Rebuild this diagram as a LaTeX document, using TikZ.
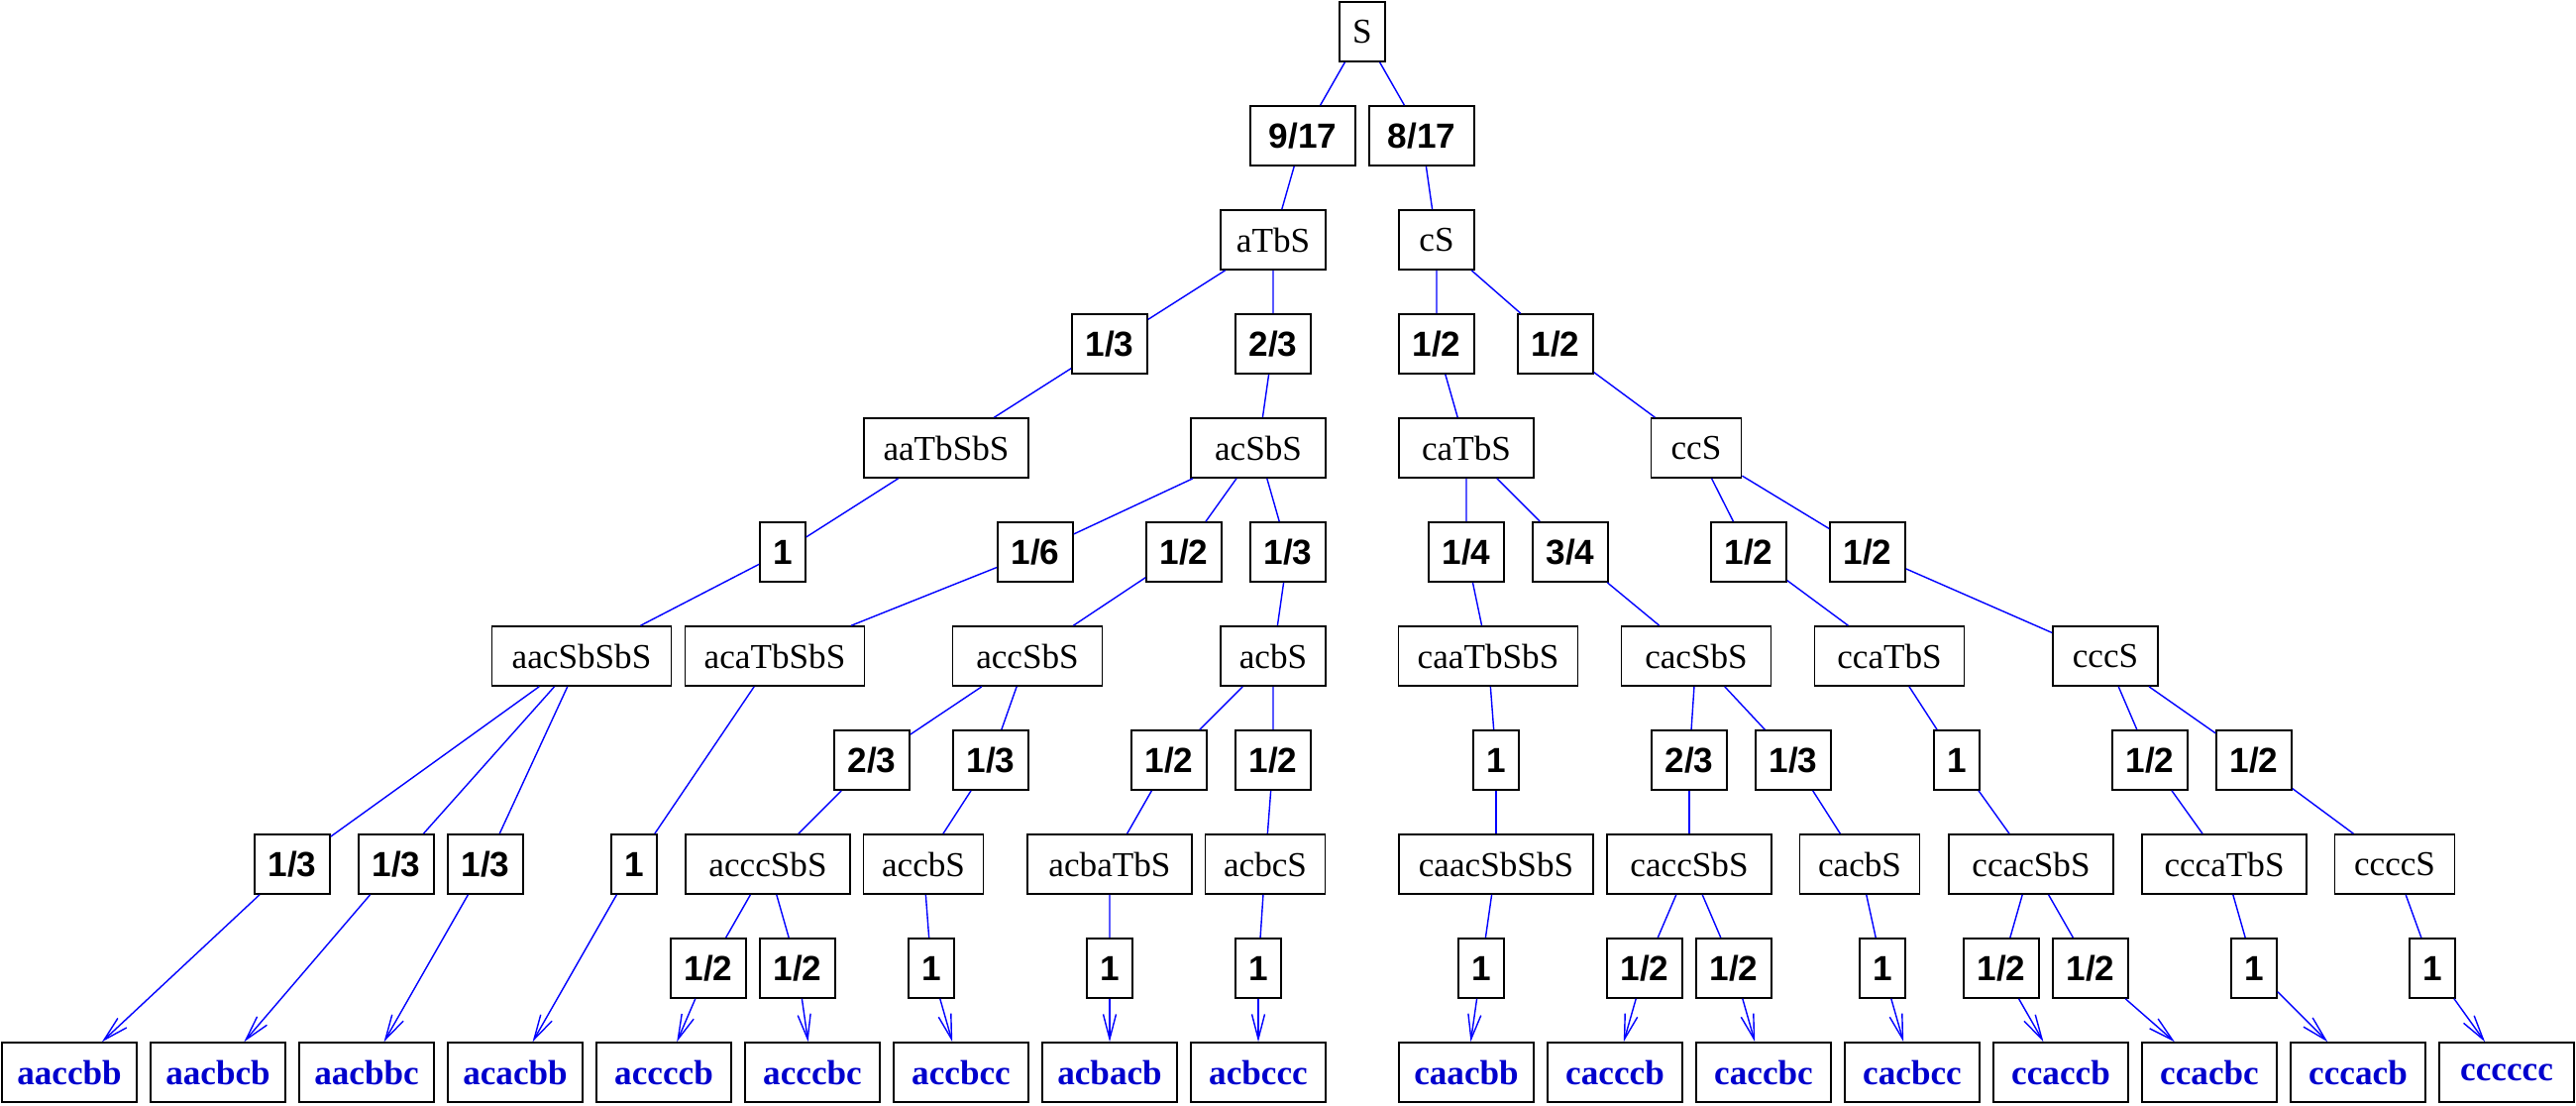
\documentclass[tikz,border=0pt]{standalone}
\usepackage{fontspec}
\setmainfont{Liberation Serif}
\setsansfont{Liberation Sans}
\usetikzlibrary{arrows.meta}
\definecolor{leafblue}{RGB}{0,0,205}
\tikzset{
  form/.style={draw, line width=0.45pt, inner sep=0pt, minimum height=6mm, minimum width=#1mm},
  prob/.style={draw, line width=0.45pt, inner sep=0pt, minimum height=6mm, minimum width=#1mm, font=\sffamily\bfseries},
  prob/.default=7.6,
  leaf/.style={draw, line width=0.45pt, inner sep=0pt, minimum height=6mm, minimum width=13.6mm, font=\bfseries, text=leafblue},
  edge/.style={blue, line width=0.4pt},
  arr/.style={edge, -{Straight Barb[length=2.5mm, width=1.3mm]}},
}
\begin{document}
\begin{tikzpicture}[x=0.01cm, y=-0.01cm]
    \useasboundingbox (0,0) rectangle (2600,1115);
    \node[form=4.6] (S) at (1375,32) {S};
    \node[prob=10.6] (p-aTbS) at (1315,137) {9/17};
    \node[prob=10.6] (p-cS) at (1435,137) {8/17};
    \node[form=10.6] (aTbS) at (1285,242) {aTbS};
    \node[form=7.6] (cS) at (1450,242) {cS};
    \node[prob] (p-aaTbSbS) at (1120,347) {1/3};
    \node[prob] (p-acSbS) at (1285,347) {2/3};
    \node[prob] (p-caTbS) at (1450,347) {1/2};
    \node[prob] (p-ccS) at (1570,347) {1/2};
    \node[form=16.6] (aaTbSbS) at (955,452) {aaTbSbS};
    \node[form=13.6] (acSbS) at (1270,452) {acSbS};
    \node[form=13.6] (caTbS) at (1480,452) {caTbS};
    \node[form=9.1] (ccS) at (1712,452) {ccS};
    \node[prob=4.6] (p-aacSbSbS) at (790,557) {1};
    \node[prob] (p-acaTbSbS) at (1045,557) {1/6};
    \node[prob] (p-accSbS) at (1195,557) {1/2};
    \node[prob] (p-acbS) at (1300,557) {1/3};
    \node[prob] (p-caaTbSbS) at (1480,557) {1/4};
    \node[prob] (p-cacSbS) at (1585,557) {3/4};
    \node[prob] (p-ccaTbS) at (1765,557) {1/2};
    \node[prob] (p-cccS) at (1885,557) {1/2};
    \node[form=18.1] (aacSbSbS) at (587,662) {aacSbSbS};
    \node[form=18.1] (acaTbSbS) at (782,662) {acaTbSbS};
    \node[form=15.1] (accSbS) at (1037,662) {accSbS};
    \node[form=10.6] (acbS) at (1285,662) {acbS};
    \node[form=18.1] (caaTbSbS) at (1502,662) {caaTbSbS};
    \node[form=15.1] (cacSbS) at (1712,662) {cacSbS};
    \node[form=15.1] (ccaTbS) at (1907,662) {ccaTbS};
    \node[form=10.6] (cccS) at (2125,662) {cccS};
    \node[prob] (p-acccSbS) at (880,767) {2/3};
    \node[prob] (p-accbS) at (1000,767) {1/3};
    \node[prob] (p-acbaTbS) at (1180,767) {1/2};
    \node[prob] (p-acbcS) at (1285,767) {1/2};
    \node[prob=4.6] (p-caacSbSbS) at (1510,767) {1};
    \node[prob] (p-caccSbS) at (1705,767) {2/3};
    \node[prob] (p-cacbS) at (1810,767) {1/3};
    \node[prob=4.6] (p-ccacSbS) at (1975,767) {1};
    \node[prob] (p-cccaTbS) at (2170,767) {1/2};
    \node[prob] (p-ccccS) at (2275,767) {1/2};
    \node[prob] (p-aaccbb) at (295,872) {1/3};
    \node[prob] (p-aacbcb) at (400,872) {1/3};
    \node[prob] (p-aacbbc) at (490,872) {1/3};
    \node[prob=4.6] (p-acacbb) at (640,872) {1};
    \node[form=16.6] (acccSbS) at (775,872) {acccSbS};
    \node[form=12.1] (accbS) at (932,872) {accbS};
    \node[form=16.6] (acbaTbS) at (1120,872) {acbaTbS};
    \node[form=12.1] (acbcS) at (1277,872) {acbcS};
    \node[form=19.6] (caacSbSbS) at (1510,872) {caacSbSbS};
    \node[form=16.6] (caccSbS) at (1705,872) {caccSbS};
    \node[form=12.1] (cacbS) at (1877,872) {cacbS};
    \node[form=16.6] (ccacSbS) at (2050,872) {ccacSbS};
    \node[form=16.6] (cccaTbS) at (2245,872) {cccaTbS};
    \node[form=12.1] (ccccS) at (2417,872) {ccccS};
    \node[prob] (p-accccb) at (715,977) {1/2};
    \node[prob] (p-acccbc) at (805,977) {1/2};
    \node[prob=4.6] (p-accbcc) at (940,977) {1};
    \node[prob=4.6] (p-acbacb) at (1120,977) {1};
    \node[prob=4.6] (p-acbccc) at (1270,977) {1};
    \node[prob=4.6] (p-caacbb) at (1495,977) {1};
    \node[prob] (p-cacccb) at (1660,977) {1/2};
    \node[prob] (p-caccbc) at (1750,977) {1/2};
    \node[prob=4.6] (p-cacbcc) at (1900,977) {1};
    \node[prob] (p-ccaccb) at (2020,977) {1/2};
    \node[prob] (p-ccacbc) at (2110,977) {1/2};
    \node[prob=4.6] (p-cccacb) at (2275,977) {1};
    \node[prob=4.6] (p-cccccc) at (2455,977) {1};
    \node[leaf] (aaccbb) at (70,1082) {aaccbb};
    \node[leaf] (aacbcb) at (220,1082) {aacbcb};
    \node[leaf] (aacbbc) at (370,1082) {aacbbc};
    \node[leaf] (acacbb) at (520,1082) {acacbb};
    \node[leaf] (accccb) at (670,1082) {accccb};
    \node[leaf] (acccbc) at (820,1082) {acccbc};
    \node[leaf] (accbcc) at (970,1082) {accbcc};
    \node[leaf] (acbacb) at (1120,1082) {acbacb};
    \node[leaf] (acbccc) at (1270,1082) {acbccc};
    \node[leaf] (caacbb) at (1480,1082) {caacbb};
    \node[leaf] (cacccb) at (1630,1082) {cacccb};
    \node[leaf] (caccbc) at (1780,1082) {caccbc};
    \node[leaf] (cacbcc) at (1930,1082) {cacbcc};
    \node[leaf] (ccaccb) at (2080,1082) {ccaccb};
    \node[leaf] (ccacbc) at (2230,1082) {ccacbc};
    \node[leaf] (cccacb) at (2380,1082) {cccacb};
    \node[leaf] (cccccc) at (2530,1082) {cccccc};
    \draw[edge] (S) -- (p-aTbS) (S) -- (p-cS);
    \draw[edge] (p-aTbS) -- (aTbS) (p-cS) -- (cS);
    \draw[edge] (aTbS) -- (p-aaTbSbS) (aTbS) -- (p-acSbS);
    \draw[edge] (cS) -- (p-caTbS) (cS) -- (p-ccS);
    \draw[edge] (p-aaTbSbS) -- (aaTbSbS) (p-acSbS) -- (acSbS);
    \draw[edge] (p-caTbS) -- (caTbS) (p-ccS) -- (ccS);
    \draw[edge] (aaTbSbS) -- (p-aacSbSbS);
    \draw[edge] (acSbS) -- (p-acaTbSbS) (acSbS) -- (p-accSbS) (acSbS) -- (p-acbS);
    \draw[edge] (caTbS) -- (p-caaTbSbS) (caTbS) -- (p-cacSbS);
    \draw[edge] (ccS) -- (p-ccaTbS) (ccS) -- (p-cccS);
    \draw[edge] (p-aacSbSbS) -- (aacSbSbS) (p-acaTbSbS) -- (acaTbSbS);
    \draw[edge] (p-accSbS) -- (accSbS) (p-acbS) -- (acbS);
    \draw[edge] (p-caaTbSbS) -- (caaTbSbS) (p-cacSbS) -- (cacSbS);
    \draw[edge] (p-ccaTbS) -- (ccaTbS) (p-cccS) -- (cccS);
    \draw[edge] (aacSbSbS) -- (p-aaccbb) (aacSbSbS) -- (p-aacbcb) (aacSbSbS) -- (p-aacbbc);
    \draw[edge] (acaTbSbS) -- (p-acacbb);
    \draw[edge] (accSbS) -- (p-acccSbS) (accSbS) -- (p-accbS);
    \draw[edge] (acbS) -- (p-acbaTbS) (acbS) -- (p-acbcS);
    \draw[edge] (caaTbSbS) -- (p-caacSbSbS);
    \draw[edge] (cacSbS) -- (p-caccSbS) (cacSbS) -- (p-cacbS);
    \draw[edge] (ccaTbS) -- (p-ccacSbS);
    \draw[edge] (cccS) -- (p-cccaTbS) (cccS) -- (p-ccccS);
    \draw[edge] (p-acccSbS) -- (acccSbS) (p-accbS) -- (accbS);
    \draw[edge] (p-acbaTbS) -- (acbaTbS) (p-acbcS) -- (acbcS);
    \draw[edge] (p-caacSbSbS) -- (caacSbSbS) (p-caccSbS) -- (caccSbS);
    \draw[edge] (p-cacbS) -- (cacbS) (p-ccacSbS) -- (ccacSbS);
    \draw[edge] (p-cccaTbS) -- (cccaTbS) (p-ccccS) -- (ccccS);
    \draw[edge] (acccSbS) -- (p-accccb) (acccSbS) -- (p-acccbc);
    \draw[edge] (accbS) -- (p-accbcc) (acbaTbS) -- (p-acbacb) (acbcS) -- (p-acbccc);
    \draw[edge] (caacSbSbS) -- (p-caacbb);
    \draw[edge] (caccSbS) -- (p-cacccb) (caccSbS) -- (p-caccbc);
    \draw[edge] (cacbS) -- (p-cacbcc);
    \draw[edge] (ccacSbS) -- (p-ccaccb) (ccacSbS) -- (p-ccacbc);
    \draw[edge] (cccaTbS) -- (p-cccacb) (ccccS) -- (p-cccccc);
    \draw[arr] (p-aaccbb) -- (aaccbb);
    \draw[arr] (p-aacbcb) -- (aacbcb);
    \draw[arr] (p-aacbbc) -- (aacbbc);
    \draw[arr] (p-acacbb) -- (acacbb);
    \draw[arr] (p-accccb) -- (accccb);
    \draw[arr] (p-acccbc) -- (acccbc);
    \draw[arr] (p-accbcc) -- (accbcc);
    \draw[arr] (p-acbacb) -- (acbacb);
    \draw[arr] (p-acbccc) -- (acbccc);
    \draw[arr] (p-caacbb) -- (caacbb);
    \draw[arr] (p-cacccb) -- (cacccb);
    \draw[arr] (p-caccbc) -- (caccbc);
    \draw[arr] (p-cacbcc) -- (cacbcc);
    \draw[arr] (p-ccaccb) -- (ccaccb);
    \draw[arr] (p-ccacbc) -- (ccacbc);
    \draw[arr] (p-cccacb) -- (cccacb);
    \draw[arr] (p-cccccc) -- (cccccc);
  \end{tikzpicture}
\end{document}
